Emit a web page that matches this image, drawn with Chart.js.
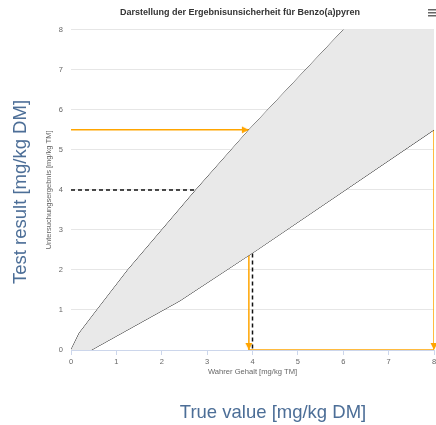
<!DOCTYPE html>
<html>
<head>
<meta charset="utf-8">
<script src="https://cdn.jsdelivr.net/npm/chart.js@4/dist/chart.umd.min.js"></script>
<style>
  html, body { margin: 0; padding: 0; background: #fff; }
  #wrap { position: relative; width: 436px; height: 425px; overflow: hidden; }
  #chart { position: absolute; left: 0; top: 0; }
  .big { position: absolute; font-family: 'Liberation Sans', Arial, sans-serif; font-size: 18.5px; color: #4c6e97; white-space: nowrap; }
  #bigY { left: 20px; top: 192px; transform: translate(-50%, -50%) rotate(-90deg); }
  #bigX { left: 273px; top: 412px; transform: translate(-50%, -50%); }
</style>
</head>
<body>
<div id="wrap">
  <canvas id="chart" width="443" height="425"></canvas>
  <div class="big" id="bigY">Test result [mg/kg DM]</div>
  <div class="big" id="bigX">True value [mg/kg DM]</div>
</div>
<script>
// upper / lower limit of the uncertainty band
const upperX = [0, 0.18, 0.57, 1.25, 2.0, 2.75, 3.92, 6.0, 8.0];
const upperY = [0, 0.42, 1.0, 2.0, 3.0, 4.0, 5.5, 8.0, 10.4];
const lowerX = [0, 0.45, 2.4, 4.1, 8.0];
const lowerY = [0, 0.0, 1.23, 2.5, 5.5];

// identity line
const diagX = [0, 8];
const diagY = [0, 8];

// measured result -> range of possible true values (orange)
const orangeX = [0, 8, 8, 3.92, 3.92];
const orangeY = [5.5, 5.5, 0, 0, 5.5];
const arrowX = [3.92, 8, 3.92, 8];
const arrowY = [5.5, 5.5, 0, 0];
const arrowRot = [0, 0, 90, 90];

// true value 4 -> result (black dashed)
const dashX = [0, 4, 4];
const dashY = [4, 4, 0];

const xTicks = [0, 1, 2, 3, 4, 5, 6, 7, 8];
const yTicks = [0, 1, 2, 3, 4, 5, 6, 7, 8];

const ORANGE = '#ffa500';

function pts(xs, ys) {
  return xs.map((x, i) => ({ x, y: ys[i] }));
}

// arrowhead image, tip in the centre, pointing right
function makeArrow() {
  const c = document.createElement('canvas');
  c.width = 16; c.height = 16;
  const g = c.getContext('2d');
  g.fillStyle = ORANGE;
  g.beginPath();
  g.moveTo(1, 4.5);
  g.lineTo(8, 8);
  g.lineTo(1, 11.5);
  g.closePath();
  g.fill();
  return c;
}

// the little export-menu icon in the top right corner
const menuIcon = {
  id: 'menuIcon',
  afterDraw(chart) {
    const ctx = chart.ctx;
    ctx.save();
    ctx.fillStyle = '#666';
    for (let i = 0; i < 3; i++) ctx.fillRect(428, 9 + i * 3, 9, 1.5);
    ctx.restore();
  },
};

Chart.defaults.font.family = "'Liberation Sans', Arial, sans-serif";

const band = pts(upperX, upperY).concat(pts(lowerX, lowerY).reverse());

new Chart(document.getElementById('chart'), {
  type: 'scatter',
  data: {
    datasets: [
      {
        data: band,
        showLine: true,
        fill: 'shape',
        backgroundColor: '#e9e9e9',
        borderWidth: 0,
        pointRadius: 0,
      },
      {
        data: pts(diagX, diagY),
        showLine: true,
        borderColor: '#cfcfcf',
        borderWidth: 1,
        pointRadius: 0,
      },
      {
        data: pts(upperX, upperY),
        showLine: true,
        borderColor: '#222',
        borderWidth: 1,
        pointRadius: 0,
      },
      {
        data: pts(lowerX, lowerY),
        showLine: true,
        borderColor: '#222',
        borderWidth: 1,
        pointRadius: 0,
      },
      {
        data: pts(dashX, dashY),
        showLine: true,
        borderColor: '#111',
        borderWidth: 1.5,
        borderDash: [4, 3],
        pointRadius: 0,
      },
      {
        data: pts(orangeX, orangeY),
        showLine: true,
        borderColor: ORANGE,
        borderWidth: 1.5,
        pointRadius: 0,
      },
      {
        data: pts(arrowX, arrowY),
        showLine: false,
        pointStyle: makeArrow(),
        rotation: arrowRot,
        pointRadius: 8,
        clip: false,
      },
    ],
  },
  plugins: [menuIcon],
  options: {
    responsive: false,
    animation: false,
    devicePixelRatio: 1,
    layout: { padding: { left: 40, top: 0, right: 3, bottom: 49 } },
    plugins: {
      legend: { display: false },
      tooltip: { enabled: false },
      title: {
        display: true,
        text: 'Darstellung der Ergebnisunsicherheit für Benzo(a)pyren',
        color: '#333',
        font: { size: 9, weight: 'bold' },
        padding: { top: 7, bottom: 12 },
      },
    },
    scales: {
      x: {
        type: 'linear',
        min: 0,
        max: 8,
        afterBuildTicks: s => { s.ticks = xTicks.map(v => ({ value: v })); },
        afterFit: s => { s.height = 26; s.paddingLeft = 0; s.paddingRight = 0; },
        ticks: { color: '#666', font: { size: 7.5 }, padding: 2 },
        grid: { drawOnChartArea: false, tickLength: 5, color: '#ccd6eb' },
        border: { color: '#ccd6eb' },
        title: { display: true, text: 'Wahrer Gehalt [mg/kg TM]', color: '#666', font: { size: 7.6 }, padding: 0 },
      },
      y: {
        type: 'linear',
        min: 0,
        max: 8,
        afterBuildTicks: s => { s.ticks = yTicks.map(v => ({ value: v })); },
        afterFit: s => { s.width = 31; s.paddingTop = 0; s.paddingBottom = 0; },
        ticks: { color: '#666', font: { size: 7.5 }, padding: 8 },
        grid: { color: '#e6e6e6', drawTicks: false },
        border: { display: false },
        title: { display: true, text: 'Untersuchungsergebnis [mg/kg TM]', color: '#666', font: { size: 7.5 }, padding: 4 },
      },
    },
  },
});
</script>
</body>
</html>
